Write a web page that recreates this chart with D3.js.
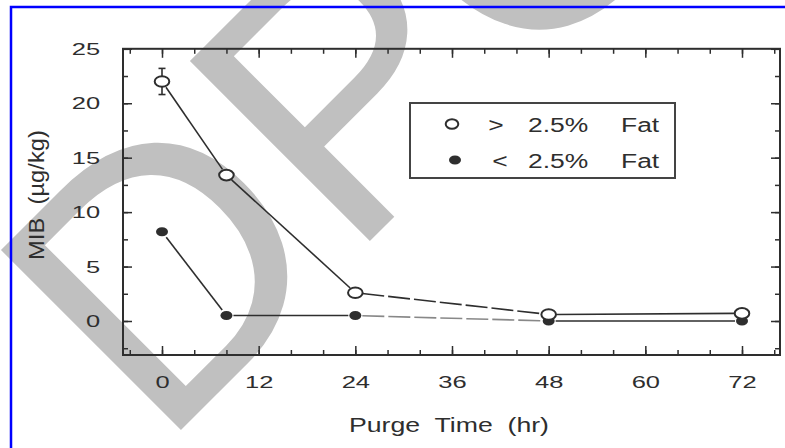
<!DOCTYPE html>
<html>
<head>
<meta charset="utf-8">
<script src="https://cdn.jsdelivr.net/npm/d3@7"></script>
<style>
  body { margin: 0; background: #fff; }
  svg { display: block; font-family: "Liberation Sans", Arial, sans-serif; }
  text { white-space: pre; }
</style>
</head>
<body>
<div id="chart"></div>
<script>
// values
const hours = [0, 8, 24, 48, 72];
const highFat = [22.0, 13.4, 2.6, 0.6, 0.7];
const highFatErr = [1.2, 0, 0, 0, 0];
const lowFat = [8.2, 0.5, 0.5, 0.0, 0.0];
const xTicks = [0, 12, 24, 36, 48, 60, 72];
const yTicks = [0, 5, 10, 15, 20, 25];
const legendSigns = [">", "<"];
const legendValue = "2.5%";
const legendWord = "Fat";
const xTitle = "Purge  Time  (hr)";
const yTitle = "MIB  (µg/kg)";
const watermark = "DPO";

const width = 785, height = 448;
const ink = "#2e2e2e";
const plotLeft = 123, plotRight = 780, plotTop = 48.8, plotBottom = 355;

const svg = d3.select("#chart").append("svg")
  .attr("width", width)
  .attr("height", height);

svg.append("rect").attr("width", width).attr("height", height).attr("fill", "#fff");

// grey watermark lettering behind the scan
svg.append("text")
  .attr("transform", "translate(159.5,451.5) rotate(-45)")
  .attr("font-size", 370)
  .attr("fill", "#c0c0c0")
  .text(watermark);

const x = d3.scaleLinear().domain([0, 72]).range([162, 742]);
const y = d3.scaleLinear().domain([0, 25]).range([321, plotTop]);

// tick marks all point inward, on the four sides
function tickSide(axis, tr, values, size, labels) {
  const g = svg.append("g")
    .attr("transform", tr)
    .call(axis.tickValues(values).tickSize(size));
  g.attr("color", ink)
    .attr("font-size", 17)
    .attr("font-family", "Liberation Sans, Arial, sans-serif");
  g.select(".domain").remove();
  g.selectAll("line").attr("stroke-width", 1.5);
  if (!labels) g.selectAll("text").remove();
  return g;
}

const xMinor = d3.range(-4, 77, 4);
const yMinor = d3.range(-2.5, 25.1, 2.5);

tickSide(d3.axisBottom(x), `translate(0,${plotBottom})`, xMinor, -5, false);
tickSide(d3.axisTop(x), `translate(0,${plotTop})`, xMinor, -5, false);
tickSide(d3.axisLeft(y), `translate(${plotLeft},0)`, yMinor, -5, false);
tickSide(d3.axisRight(y), `translate(${plotRight},0)`, yMinor, -5, false);

const xAxis = tickSide(d3.axisBottom(x).tickPadding(21), `translate(0,${plotBottom})`, xTicks, -9, true);
xAxis.selectAll("text").attr("transform", "scale(1.5,1)");
tickSide(d3.axisTop(x), `translate(0,${plotTop})`, xTicks, -9, false);
const yAxis = tickSide(d3.axisLeft(y).tickPadding(15.3), `translate(${plotLeft},0)`, yTicks, -9, true);
yAxis.selectAll("text").attr("transform", "scale(1.5,1)");
tickSide(d3.axisRight(y), `translate(${plotRight},0)`, yTicks, -9, false);

// plot frame
svg.append("rect")
  .attr("x", plotLeft).attr("y", plotTop)
  .attr("width", plotRight - plotLeft).attr("height", plotBottom - plotTop)
  .attr("fill", "none")
  .attr("stroke", ink)
  .attr("stroke-width", 2);

// axis titles
svg.append("text")
  .attr("x", 449).attr("y", 432)
  .attr("text-anchor", "middle")
  .attr("font-size", 21)
  .attr("fill", ink)
  .attr("textLength", 200)
  .attr("lengthAdjust", "spacingAndGlyphs")
  .text(xTitle);

svg.append("text")
  .attr("transform", "translate(44,195) rotate(-90)")
  .attr("text-anchor", "middle")
  .attr("font-size", 22)
  .attr("fill", ink)
  .attr("textLength", 130)
  .attr("lengthAdjust", "spacingAndGlyphs")
  .text(yTitle);

// series
const highPts = hours.map((h, i) => ({ h: h, v: highFat[i], e: highFatErr[i] }));
const lowPts = hours.map((h, i) => ({ h: h, v: lowFat[i] }));
const dashedSegment = 2; // the 24-48 h stretch is broken in the print

function segments(pts) {
  const out = [];
  for (let i = 0; i < pts.length - 1; i++) {
    const x1 = x(pts[i].h), y1 = y(pts[i].v);
    const x2 = x(pts[i + 1].h), y2 = y(pts[i + 1].v);
    const len = Math.hypot(x2 - x1, y2 - y1);
    const gap = 7;
    const ux = (x2 - x1) / len, uy = (y2 - y1) / len;
    out.push({ i: i, x1: x1 + ux * gap, y1: y1 + uy * gap, x2: x2 - ux * gap, y2: y2 - uy * gap });
  }
  return out;
}

function drawLines(pts, faded) {
  svg.append("g").selectAll("line")
    .data(segments(pts))
    .join("line")
    .attr("x1", d => d.x1).attr("y1", d => d.y1)
    .attr("x2", d => d.x2).attr("y2", d => d.y2)
    .attr("stroke", d => (d.i === dashedSegment && faded) ? "#888" : ink)
    .attr("stroke-width", 1.6)
    .attr("stroke-dasharray", d => d.i === dashedSegment ? "22,4" : null);
}

drawLines(highPts, false);
drawLines(lowPts, true);

// error bar on the first >2.5% point
const errG = svg.append("g").attr("stroke", ink).attr("stroke-width", 1.6);
highPts.filter(d => d.e > 0).forEach(d => {
  errG.append("line").attr("x1", x(d.h)).attr("x2", x(d.h)).attr("y1", y(d.v - d.e)).attr("y2", y(d.v + d.e));
  errG.append("line").attr("x1", x(d.h) - 3.5).attr("x2", x(d.h) + 3.5).attr("y1", y(d.v + d.e)).attr("y2", y(d.v + d.e));
  errG.append("line").attr("x1", x(d.h) - 3.5).attr("x2", x(d.h) + 3.5).attr("y1", y(d.v - d.e)).attr("y2", y(d.v - d.e));
});

svg.append("g").selectAll("ellipse")
  .data(lowPts)
  .join("ellipse")
  .attr("cx", d => x(d.h)).attr("cy", d => y(d.v))
  .attr("rx", 6).attr("ry", 4.5)
  .attr("fill", ink);

svg.append("g").selectAll("ellipse")
  .data(highPts)
  .join("ellipse")
  .attr("cx", d => x(d.h)).attr("cy", d => y(d.v))
  .attr("rx", 7.3).attr("ry", 5.3)
  .attr("fill", "#fff")
  .attr("stroke", ink)
  .attr("stroke-width", 2);

// legend
svg.append("rect")
  .attr("x", 410).attr("y", 103)
  .attr("width", 265).attr("height", 75)
  .attr("fill", "none")
  .attr("stroke", "#444")
  .attr("stroke-width", 2);

const rowY = [124, 160];
const legend = svg.append("g").attr("fill", ink).attr("font-size", 21);
legend.append("ellipse")
  .attr("cx", 452).attr("cy", rowY[0]).attr("rx", 6.3).attr("ry", 4.8)
  .attr("fill", "#fff").attr("stroke", ink).attr("stroke-width", 2);
legend.append("ellipse")
  .attr("cx", 455).attr("cy", rowY[1]).attr("rx", 6).attr("ry", 4.5);

legendSigns.forEach((s, i) => {
  const base = rowY[i] + 8;
  legend.append("text")
    .attr("transform", `translate(${i === 0 ? 496 : 500},${base}) scale(1.26,1)`)
    .attr("text-anchor", "middle")
    .text(s);
  legend.append("text")
    .attr("transform", `translate(528,${base}) scale(1.26,1)`)
    .text(legendValue);
  legend.append("text")
    .attr("transform", `translate(621,${base}) scale(1.26,1)`)
    .text(legendWord);
});

// blue page frame
svg.append("path")
  .attr("d", `M11,${height + 5}V7H${width + 5}`)
  .attr("fill", "none")
  .attr("stroke", "#0000ff")
  .attr("stroke-width", 2.5);
</script>
</body>
</html>
